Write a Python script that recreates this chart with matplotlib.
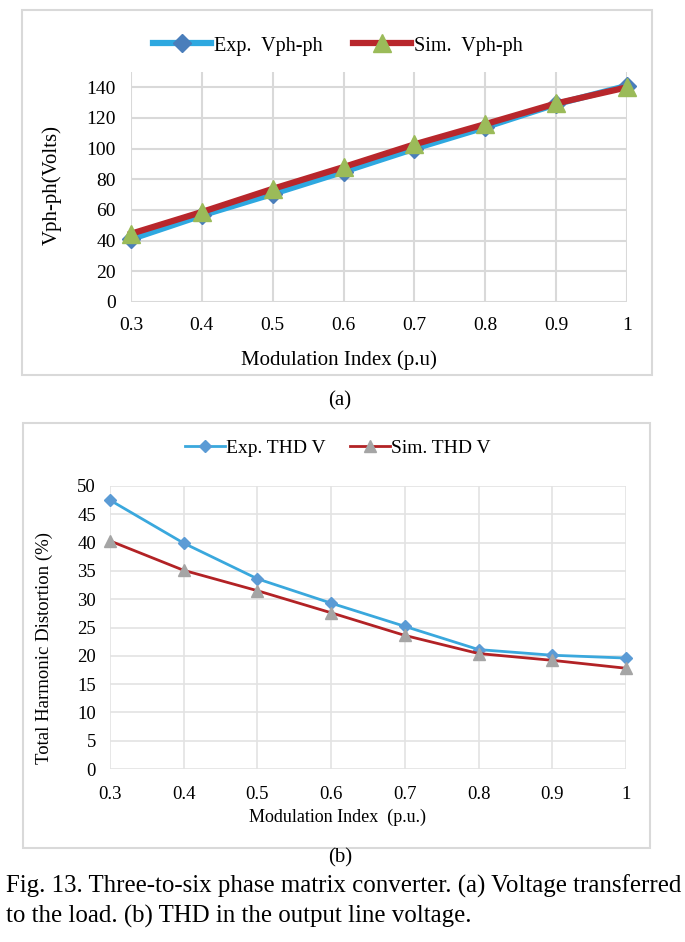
import matplotlib
matplotlib.use("Agg")
import matplotlib.pyplot as plt
from matplotlib.patches import Rectangle

# ---- data ----
mod_index = [0.3, 0.4, 0.5, 0.6, 0.7, 0.8, 0.9, 1.0]
x_tick_labels = ["0.3", "0.4", "0.5", "0.6", "0.7", "0.8", "0.9", "1"]

exp_vphph = [41, 56.5, 70.5, 85, 100, 114, 129, 141]
sim_vphph = [44.5, 58.7, 73.8, 88, 102.8, 116, 129.5, 140]

exp_thd = [47.5, 39.9, 33.6, 29.3, 25.2, 21.1, 20.1, 19.6]
sim_thd = [40.3, 35.1, 31.5, 27.6, 23.6, 20.4, 19.2, 17.8]

W, H = 685, 942
plt.rcParams["font.family"] = ["Liberation Serif", "DejaVu Serif"]
fig = plt.figure(figsize=(W / 100, H / 100), dpi=100)


def fx(px):
    return px / W


def fy(py):
    return 1 - py / H


def add_axes_px(left, top, right, bottom):
    return fig.add_axes([fx(left), fy(bottom), fx(right - left), (bottom - top) / H])


# panel frames
for (l, t, r, b) in [(22, 10, 652, 375), (23, 423, 650, 848)]:
    fig.patches.append(Rectangle((fx(l), fy(b)), fx(r - l), (b - t) / H,
                                 transform=fig.transFigure, fill=False,
                                 edgecolor="#D9D9D9", linewidth=1.5))

grid_c = "#D9D9D9"

# ---- top panel ----
ax1 = add_axes_px(131, 72, 627, 302)
ax1.plot(mod_index, exp_vphph, color="#2EA8E0", lw=4.5, marker="D", ms=9,
         mfc="#4A7EBB", mec="#4A7EBB", label="Exp.  Vph-ph", clip_on=False, zorder=3)
ax1.plot(mod_index, sim_vphph, color="#B8272C", lw=4.5, marker="^", ms=13,
         mfc="#9BBB59", mec="#9BBB59", label="Sim.  Vph-ph", clip_on=False, zorder=4)
ax1.set_xlim(0.3, 1.0)
ax1.set_ylim(0, 150)
ax1.set_yticks(range(0, 141, 20))
ax1.set_xticks(mod_index)
ax1.set_xticklabels(x_tick_labels)
ax1.grid(True, color=grid_c, lw=1.5)
ax1.set_axisbelow(True)
for s in ax1.spines.values():
    s.set_visible(False)
ax1.tick_params(axis="y", length=0, labelsize=14, pad=11)
ax1.tick_params(axis="x", length=0, labelsize=14, pad=11)
ax1.set_xlabel("Modulation Index (p.u)", fontsize=15)
ax1.set_ylabel("Vph-ph(Volts)", fontsize=15)
ax1.xaxis.set_label_coords(0.42, -0.209)
ax1.yaxis.set_label_coords(-0.139, 0.509)
ax1.legend(loc="center", bbox_to_anchor=(fx(338), fy(46)), bbox_transform=fig.transFigure,
           ncol=2, frameon=False, fontsize=14.5, handlelength=2.9, columnspacing=1.5,
           handletextpad=0.15)

fig.text(fx(340), fy(401), "(a)", ha="center", va="center", fontsize=15)

# ---- bottom panel ----
ax2 = add_axes_px(110, 486, 626, 769)
ax2.plot(mod_index, exp_thd, color="#3AA8DD", lw=2, marker="D", ms=6.5,
         mfc="#5B9BD5", mec="#5B9BD5", label="Exp. THD V", clip_on=False, zorder=3)
ax2.plot(mod_index, sim_thd, color="#B22225", lw=2, marker="^", ms=8,
         mfc="#A5A5A5", mec="#A5A5A5", label="Sim. THD V", clip_on=False, zorder=4)
ax2.set_xlim(0.3, 1.0)
ax2.set_ylim(0, 50)
ax2.set_yticks(range(0, 51, 5))
ax2.set_xticks(mod_index)
ax2.set_xticklabels(x_tick_labels)
ax2.grid(True, color="#E3E3E3", lw=1.2)
ax2.set_axisbelow(True)
for s in ax2.spines.values():
    s.set_visible(False)
ax2.tick_params(axis="y", length=0, labelsize=13.5, pad=10)
ax2.tick_params(axis="x", length=0, labelsize=13.5, pad=12)
ax2.set_xlabel("Modulation Index  (p.u.)", fontsize=13)
ax2.set_ylabel("Total Harmonic Distortion (%)", fontsize=13.5)
ax2.xaxis.set_label_coords(0.44, -0.141)
ax2.yaxis.set_label_coords(-0.110, 0.428)
ax2.legend(loc="center", bbox_to_anchor=(fx(338), fy(448)), bbox_transform=fig.transFigure,
           ncol=2, frameon=False, fontsize=14, handlelength=2.05, columnspacing=1.25,
           handletextpad=0.05)

fig.text(fx(340), fy(858), "(b)", ha="center", va="center", fontsize=15)
fig.text(fx(6), fy(886), "Fig. 13. Three-to-six phase matrix converter. (a) Voltage transferred",
         ha="left", va="center", fontsize=17.9)
fig.text(fx(6), fy(916), "to the load. (b) THD in the output line voltage.",
         ha="left", va="center", fontsize=17.9)

fig.savefig("out.png", dpi=100)
